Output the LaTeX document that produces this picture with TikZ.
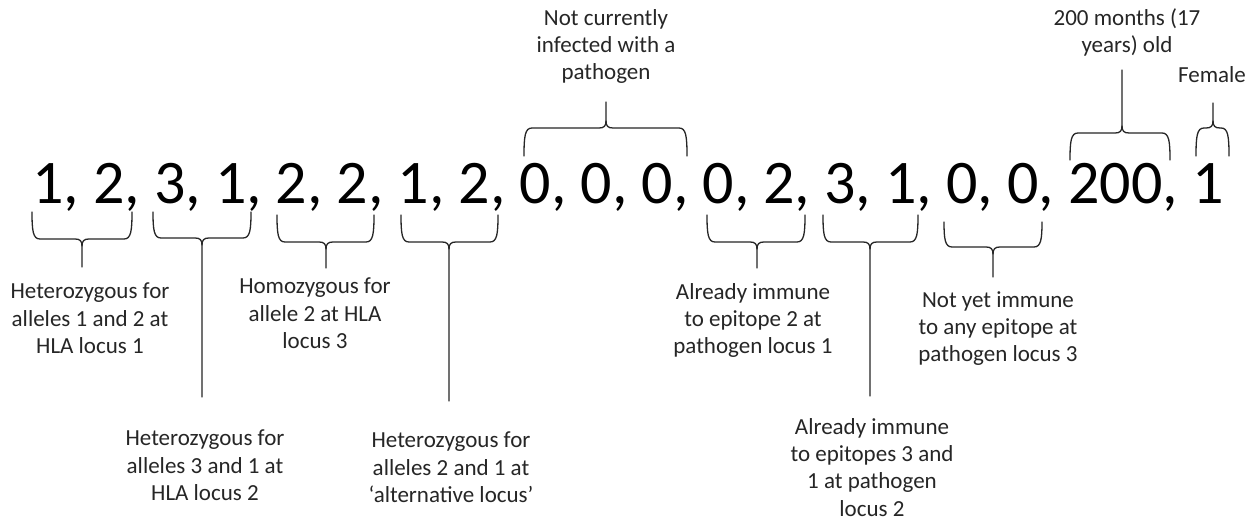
\documentclass[tikz,border=0pt]{standalone}
\usepackage{fontspec}
\setmainfont{Carlito}
\tikzset{
  br/.style={draw=black!85, line width=1.3pt, line join=round, line cap=round},
  lbl/.style={font=\fontsize{23}{27.3}\selectfont, align=center, inner sep=0pt, anchor=north, text=black!85},
}
% bottom brace: name, left, right, top, horiz, tip, bottom
\newcommand\BrUp[7]{%
  \draw[br] (#2,#4) .. controls (#2,#5-8) and (#2+1,#5) .. (#2+8,#5) -- (#6-7,#5)
     .. controls (#6-2,#5) and (#6,#5+2) .. (#6,#5+7) -- (#6,#7) coordinate (#1);
  \draw[br] (#3,#4) .. controls (#3,#5-8) and (#3-1,#5) .. (#3-8,#5) -- (#6+7,#5)
     .. controls (#6+2,#5) and (#6,#5+2) .. (#6,#5+7);
}
% top brace: name, left, right, bottom, horiz, tip, top
\newcommand\BrDown[7]{%
  \draw[br] (#2,#4) .. controls (#2,#5+8) and (#2+1,#5) .. (#2+8,#5) -- (#6-7,#5)
     .. controls (#6-2,#5) and (#6,#5-2) .. (#6,#5-7) -- (#6,#7) coordinate (#1);
  \draw[br] (#3,#4) .. controls (#3,#5+8) and (#3-1,#5) .. (#3-8,#5) -- (#6+7,#5)
     .. controls (#6+2,#5) and (#6,#5-2) .. (#6,#5-7);
}
\begin{document}
\begin{tikzpicture}[x=1pt,y=-1pt]
\path[use as bounding box, fill=white] (0,0) rectangle (1258,521);

\node[anchor=base west, inner sep=0pt, font=\fontsize{62}{62}\selectfont] (seq) at (32,204)
  {1, 2, 3, 1, 2, 2, 1, 2, 0, 0, 0, 0, 2, 3, 1, 0, 0, 200, 1};

% braces below
\BrUp{t1}{32}{132}{212}{239}{82}{267}
\BrUp{t2}{153}{251}{212}{238}{202}{397}
\BrUp{t3}{277}{374}{215}{242}{326}{268}
\BrUp{t4}{401}{498}{215}{242}{449}{401}
\BrUp{t5}{707}{805}{215}{242}{757}{268}
\BrUp{t6}{823}{918}{215}{242}{870}{396}
\BrUp{t7}{944}{1042}{222}{247}{993}{277}
% braces above
\BrDown{u1}{524}{687}{156}{128}{606}{102}
\BrDown{u2}{1070}{1170}{160}{133}{1122}{70}
\BrDown{u3}{1196}{1229}{156}{128}{1213}{103}

% labels
\node[lbl] (l1) at (90,283) {Heterozygous for\\alleles 1 and 2 at\\HLA locus 1};
\node[lbl] (l2) at (205,430) {Heterozygous for\\alleles 3 and 1 at\\HLA locus 2};
\node[lbl] (l3) at (315,278) {Homozygous for\\allele 2 at HLA\\locus 3};
\node[lbl] (l4) at (451,432) {Heterozygous for\\alleles 2 and 1 at\\‘alternative locus’};
\node[lbl] (l5) at (753,283) {Already immune\\to epitope 2 at\\pathogen locus 1};
\node[lbl] (l6) at (872,418) {Already immune\\to epitopes 3 and\\1 at pathogen\\locus 2};
\node[lbl] (l7) at (998,291) {Not yet immune\\to any epitope at\\pathogen locus 3};
\node[lbl] (l8) at (606,9) {Not currently\\infected with a\\pathogen};
\node[lbl] (l9) at (1127,8) {200 months (17\\years) old};
\node[lbl] (l10) at (1212,66) {Female};
\end{tikzpicture}
\end{document}
